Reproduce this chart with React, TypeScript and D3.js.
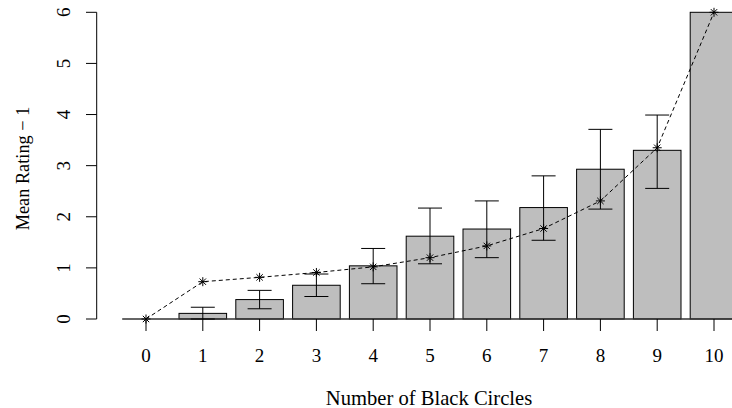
import React, { useRef, useEffect } from "react";
import * as d3 from "d3";

// number of black circles
const circles = ["0", "1", "2", "3", "4", "5", "6", "7", "8", "9", "10"];
// bar heights (mean rating - 1)
const meanRating = [0, 0.11, 0.38, 0.66, 1.04, 1.62, 1.76, 2.18, 2.93, 3.3, 6.0];
// error bar ends (null = none drawn)
const errHigh = [null, 0.23, 0.56, 0.88, 1.38, 2.17, 2.31, 2.8, 3.71, 3.99, null];
const errLow = [null, 0, 0.2, 0.44, 0.69, 1.08, 1.2, 1.54, 2.15, 2.555, null];
// starred model values joined by the dashed line
const model = [0, 0.73, 0.815, 0.91, 1.02, 1.2, 1.43, 1.77, 2.31, 3.35, 6.0];
const yTicks = [0, 1, 2, 3, 4, 5, 6];

const App = () => {
  const svgRef = useRef<SVGSVGElement>(null);

  useEffect(() => {
    const svg = d3.select(svgRef.current);
    svg.selectAll("*").remove();

    const width = 732;
    const height = 408;
    const font = "'Liberation Serif', 'Times New Roman', serif";
    svg.attr("width", width).attr("height", height);

    const x = d3
      .scaleBand()
      .domain(circles)
      .range([117.6, 742.4])
      .paddingInner(0.162)
      .paddingOuter(0.081);
    const cx = (c: string) => (x(c) as number) + x.bandwidth() / 2;

    const y = d3.scaleLinear().domain([0, 6]).range([319, 12.3]);

    // bars
    svg
      .selectAll("rect.bar")
      .data(circles)
      .enter()
      .append("rect")
      .attr("class", "bar")
      .attr("x", (d) => x(d) as number)
      .attr("y", (d, i) => y(meanRating[i]))
      .attr("width", x.bandwidth())
      .attr("height", (d, i) => y(0) - y(meanRating[i]))
      .attr("fill", "#bebebe")
      .attr("stroke", "#000")
      .attr("stroke-width", 1);

    // baseline
    svg
      .append("line")
      .attr("x1", x("0") as number)
      .attr("x2", width)
      .attr("y1", y(0))
      .attr("y2", y(0))
      .attr("stroke", "#333")
      .attr("stroke-width", 1.3);

    // error bars
    const cap = 12;
    const g = svg.append("g").attr("stroke", "#000").attr("stroke-width", 1);
    circles.forEach((c, i) => {
      const hi = errHigh[i];
      const lo = errLow[i];
      if (hi === null || lo === null) return;
      const px = cx(c);
      g.append("line").attr("x1", px).attr("x2", px).attr("y1", y(hi)).attr("y2", y(lo));
      g.append("line").attr("x1", px - cap).attr("x2", px + cap).attr("y1", y(hi)).attr("y2", y(hi));
      g.append("line").attr("x1", px - cap).attr("x2", px + cap).attr("y1", y(lo)).attr("y2", y(lo));
    });

    // dashed model line
    const line = d3
      .line<number>()
      .x((d, i) => cx(circles[i]))
      .y((d) => y(d));
    svg
      .append("path")
      .attr("d", line(model))
      .attr("fill", "none")
      .attr("stroke", "#000")
      .attr("stroke-width", 1)
      .attr("stroke-dasharray", "4,3");

    // asterisk markers
    const r = 4.5;
    const stars = svg.append("g").attr("stroke", "#000").attr("stroke-width", 1);
    model.forEach((v, i) => {
      const px = cx(circles[i]);
      const py = y(v);
      const k = r * Math.SQRT1_2;
      stars.append("line").attr("x1", px - r).attr("x2", px + r).attr("y1", py).attr("y2", py);
      stars.append("line").attr("x1", px).attr("x2", px).attr("y1", py - r).attr("y2", py + r);
      stars.append("line").attr("x1", px - k).attr("x2", px + k).attr("y1", py - k).attr("y2", py + k);
      stars.append("line").attr("x1", px - k).attr("x2", px + k).attr("y1", py + k).attr("y2", py - k);
    });

    // x axis ticks and labels
    const xa = svg.append("g");
    circles.forEach((c) => {
      xa.append("line")
        .attr("x1", cx(c))
        .attr("x2", cx(c))
        .attr("y1", y(0))
        .attr("y2", y(0) + 12)
        .attr("stroke", "#000");
      xa.append("text")
        .attr("x", cx(c))
        .attr("y", 362)
        .attr("text-anchor", "middle")
        .attr("font-family", font)
        .attr("font-size", 19)
        .text(c);
    });
    svg
      .append("text")
      .attr("x", 429)
      .attr("y", 405)
      .attr("text-anchor", "middle")
      .attr("font-family", font)
      .attr("font-size", 20.6)
      .text("Number of Black Circles");

    // y axis
    const ya = svg.append("g");
    ya.append("line")
      .attr("x1", 96.7)
      .attr("x2", 96.7)
      .attr("y1", y(0))
      .attr("y2", y(6))
      .attr("stroke", "#000");
    yTicks.forEach((t) => {
      ya.append("line")
        .attr("x1", 86)
        .attr("x2", 96.7)
        .attr("y1", y(t))
        .attr("y2", y(t))
        .attr("stroke", "#000");
      ya.append("text")
        .attr("transform", `translate(70,${y(t)}) rotate(-90)`)
        .attr("text-anchor", "middle")
        .attr("font-family", font)
        .attr("font-size", 19)
        .text(t);
    });
    svg
      .append("text")
      .attr("transform", `translate(29,168.5) rotate(-90)`)
      .attr("text-anchor", "middle")
      .attr("font-family", font)
      .attr("font-size", 18.3)
      .text("Mean Rating \u2212 1");
  }, []);

  return <svg ref={svgRef} style={{ position: "absolute", left: 0, top: 0 }} />;
};

export default App;
